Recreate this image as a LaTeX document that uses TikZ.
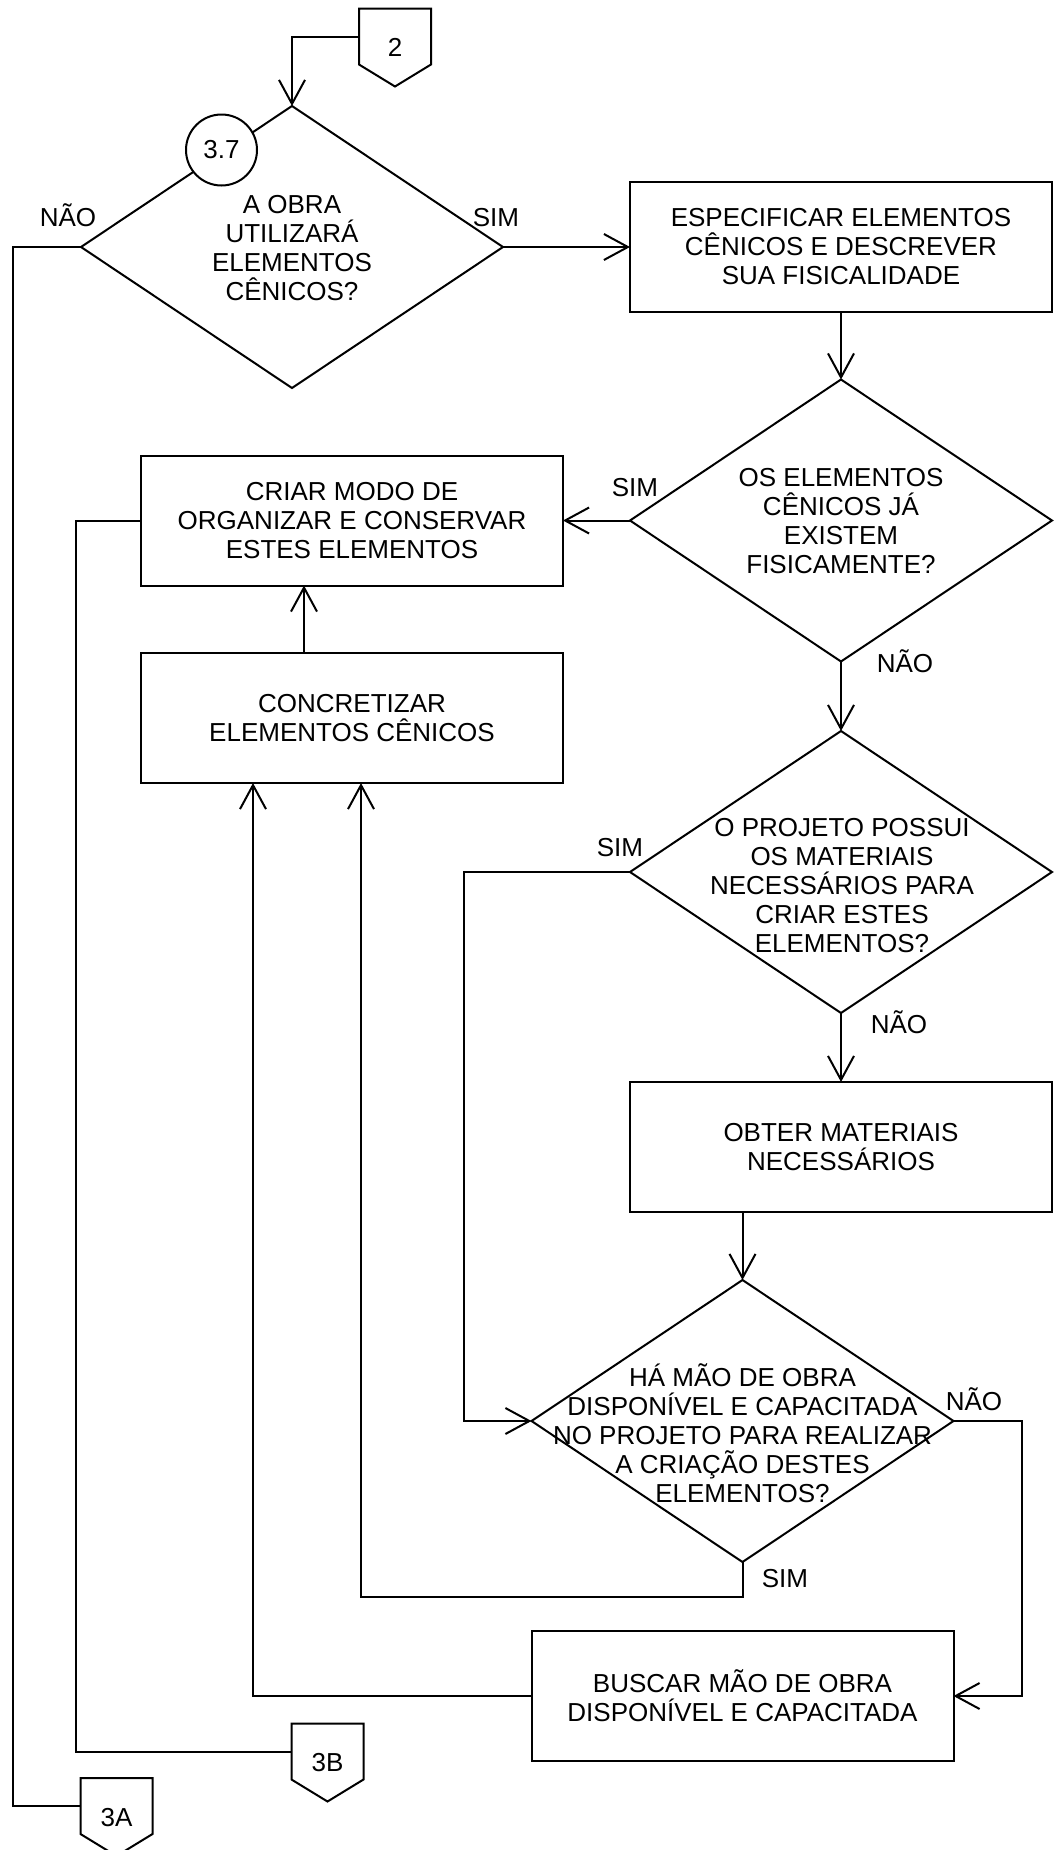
\documentclass[tikz,border=0pt]{standalone}
\usepackage{fontspec}
\setmainfont{Liberation Sans}
\usetikzlibrary{shapes.geometric,arrows.meta,calc}
\begin{document}
\begin{tikzpicture}[x=1pt,y=-1pt,
  line width=2pt,
  every node/.style={font=\fontsize{26}{29}\selectfont, outer sep=0pt},
  procbox/.style={draw, rectangle, minimum width=422pt, minimum height=130pt, inner sep=0pt, align=center},
  decision/.style={draw, diamond, minimum width=422pt, minimum height=282pt, inner sep=0pt},
  qtext/.style={align=center, inner sep=0pt},
  refcircle/.style={draw, circle, minimum size=71pt, inner sep=0pt, fill=white},
  offpage/.style={minimum width=72pt, minimum height=78pt, inner sep=0pt, text height=18.6pt, text depth=0pt},
  answer/.style={inner sep=0pt, text height=18.6pt, text depth=0pt},
  flow/.style={-{Straight Barb[length=24pt,width=26pt]}}
]
\useasboundingbox (0,0) rectangle (1053,1850);

% process boxes
\node[procbox] (b1) at (841,247) {ESPECIFICAR ELEMENTOS\\CÊNICOS E DESCREVER\\SUA FISICALIDADE};
\node[procbox] (b2) at (352,520.5) {CRIAR MODO DE\\ORGANIZAR E CONSERVAR\\ESTES ELEMENTOS};
\node[procbox] (b3) at (352,718) {CONCRETIZAR\\ELEMENTOS CÊNICOS};
\node[procbox] (b4) at (841,1147) {OBTER MATERIAIS\\NECESSÁRIOS};
\node[procbox] (b5) at (742.5,1696) {BUSCAR MÃO DE OBRA\\DISPONÍVEL E CAPACITADA};

% decisions
\node[decision] (d1) at (292,247) {};
\node[qtext] (t1) at (292,248) {A OBRA\\UTILIZARÁ\\ELEMENTOS\\CÊNICOS?};
\node[decision] (d2) at (841,520.5) {};
\node[qtext] (t2) at (841,521) {OS ELEMENTOS\\CÊNICOS JÁ\\EXISTEM\\FISICAMENTE?};
\node[decision] (d3) at (841,872) {};
\node[qtext] (t3) at (842,886) {O PROJETO POSSUI\\OS MATERIAIS\\NECESSÁRIOS PARA\\CRIAR ESTES\\ELEMENTOS?};
\node[decision] (d4) at (742.5,1421) {};
\node[qtext] (t4) at (742.5,1433) {HÁ MÃO DE OBRA\\DISPONÍVEL E CAPACITADA\\NO PROJETO PARA REALIZAR\\A CRIAÇÃO DESTES\\ELEMENTOS?};

% step reference
\node[refcircle] (r37) at (221.5,150) {3.7};

% off-page connectors
\node[offpage] (c2) at (395,47.5) {2};
\node[offpage] (c3b) at (327.5,1762.5) {3B};
\node[offpage] (c3a) at (116.5,1817) {3A};
\foreach \c in {c2,c3b,c3a}{
  \draw (\c.north west) -- (\c.north east) -- ([yshift=22pt]\c.south east)
        -- (\c.south) -- ([yshift=22pt]\c.south west) -- cycle;
}

% answer labels
\node[answer] (l1y) at (496,217) {SIM};
\node[answer] (l1n) at (68,217) {NÃO};
\node[answer] (l2y) at (635,487) {SIM};
\node[answer] (l2n) at (905,663) {NÃO};
\node[answer] (l3y) at (620,847) {SIM};
\node[answer] (l3n) at (899,1024) {NÃO};
\node[answer] (l4n) at (974,1401) {NÃO};
\node[answer] (l4y) at (785,1578) {SIM};

% routing rails
\coordinate (railA) at (13,0);
\coordinate (railB) at (76,0);
\coordinate (railC) at (464,0);
\coordinate (railD) at (1022,0);
\coordinate (railE) at (0,1597);
\coordinate (colUp) at (304,0);
\coordinate (colIn1) at (361,0);
\coordinate (colIn2) at (253,0);

% connectors
\draw[flow] ([yshift=11pt]c2.west) -| (d1.north);
\draw[flow] (d1.east) -- (b1.west);
\draw (d1.west) -- (d1.west -| railA) |- ([yshift=11pt]c3a.west);
\draw[flow] (b1.south) -- (d2.north);
\draw[flow] (d2.west) -- (d2.west -| b2.east);
\draw (b2.west) -- (b2.west -| railB) |- ([yshift=11pt]c3b.west);
\draw[flow] (b3.north -| colUp) -- (b2.south -| colUp);
\draw[flow] (d2.south) -- (d3.north);
\draw[flow] (d3.west) -- (d3.west -| railC) |- (d4.west);
\draw[flow] (d3.south) -- (b4.north);
\draw[flow] (b4.south -| d4.north) -- (d4.north);
\draw[flow] (d4.east) -- (d4.east -| railD) |- (b5.east);
\draw[flow] (d4.south) -- (d4.south |- railE) -| (b3.south -| colIn1);
\draw[flow] (b5.west) -| (b3.south -| colIn2);
\end{tikzpicture}
\end{document}
